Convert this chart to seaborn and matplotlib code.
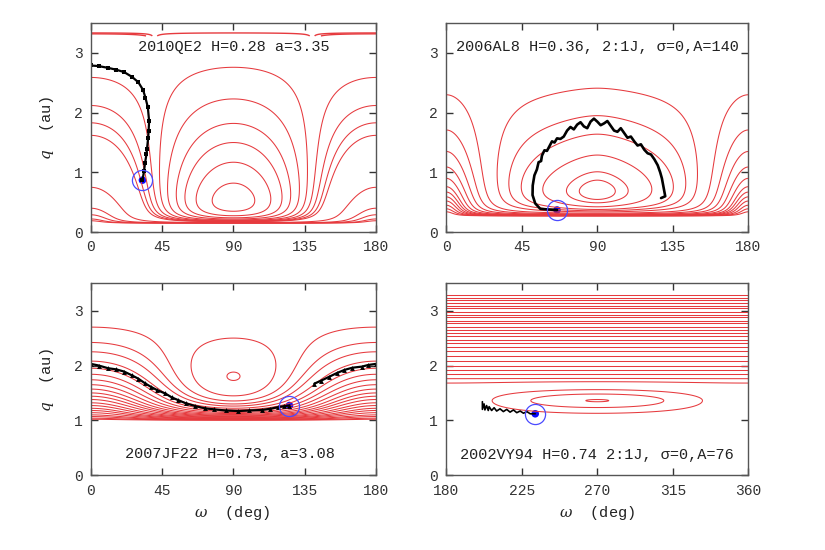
import numpy as np
import seaborn as sns
import matplotlib.pyplot as plt

# ---------------- values ----------------
labels = ["2010QE2 H=0.28 a=3.35", "2006AL8 H=0.36, 2:1J, σ=0,A=140",
          "2007JF22 H=0.73, a=3.08", "2002VY94 H=0.74 2:1J, σ=0,A=76"]

# Kozai-type panels: lower boundary band, libration centre, e=0 line (au)
qe2_frame = [0.15, 0.52, 3.35]
al8_frame = [0.27, 0.68, 3.28]
jf22_frame = [1.00, 1.80, 3.08]
# how far (deg) the arches of each panel are pushed out towards omega=0/180
qe2_spread = 0.0
al8_spread = 17.0
jf22_spread = 0.0

# q where the drawn level curves cut omega=0 and omega=90
qe2_q0 = [2.59, 2.12, 1.83, 1.62, 0.75, 0.40, 0.29, 0.22, 0.19]
qe2_q90 = [2.76, 2.23, 1.82, 1.50, 1.17, 0.82]
qe2_top_q0 = [3.335, 3.32]
qe2_top_q90 = [3.335]
al8_q0 = [2.30, 1.71, 1.35, 1.09, 0.90, 0.76, 0.67, 0.59, 0.52, 0.45, 0.39, 0.34]
al8_q90 = [2.41, 1.95, 1.64, 1.29, 1.01, 0.87]
jf22_q0 = [2.70, 2.42, 2.25, 2.08, 1.95, 1.84, 1.74, 1.65, 1.57, 1.50, 1.44,
           1.38, 1.32, 1.27, 1.22, 1.18, 1.14, 1.10, 1.07, 1.04, 1.02]
jf22_q90 = [2.50, 1.88]

# 2002VY94: resonant island (centre q, width) and level curves
vy94_island = [1.36, 0.17]
vy94_q180 = [3.29, 3.24, 3.19, 3.14, 3.09, 3.04, 2.98, 2.93, 2.88, 2.82, 2.77,
             2.71, 2.65, 2.59, 2.53, 2.47, 2.41, 2.34, 2.27, 2.18, 2.09, 2.00,
             1.92, 1.84, 1.76, 1.68]
vy94_q270 = [1.56, 1.48, 1.38]

# black trajectories (omega deg, q au) and current position
qe2_om = [0, 5, 11, 16, 21, 26, 30, 33, 34.5, 36, 36.8, 36.5, 36.2, 35.5, 35.1, 34.2, 33.6, 32.6]
qe2_q = [2.79, 2.78, 2.75, 2.72, 2.68, 2.60, 2.51, 2.38, 2.25, 2.09, 1.86, 1.70, 1.58, 1.40, 1.30, 1.15, 1.02, 0.87]
qe2_now = [32.6, 0.87]

al8_om = [66, 60, 56, 53, 51.4, 51.5, 52.5, 54, 55, 56.5, 57, 58.5, 60, 61.5, 63, 64.5, 66, 68, 70,
          72, 74, 76, 78, 80, 82, 84, 86, 88, 90, 92, 94, 96, 98, 100, 102, 104, 106, 108, 110,
          112, 114, 116, 118, 120, 122, 124, 126, 127.5, 128.5, 129.5, 130.5, 128]
al8_q = [0.37, 0.38, 0.39, 0.48, 0.62, 0.78, 0.95, 1.05, 1.17, 1.19, 1.28, 1.37, 1.36, 1.44, 1.52,
         1.50, 1.57, 1.56, 1.60, 1.70, 1.76, 1.72, 1.80, 1.84, 1.77, 1.74, 1.85, 1.90, 1.85, 1.79,
         1.82, 1.86, 1.78, 1.70, 1.68, 1.74, 1.66, 1.58, 1.60, 1.52, 1.45, 1.47, 1.38, 1.32, 1.30,
         1.22, 1.12, 1.00, 0.90, 0.75, 0.60, 0.57]
al8_now = [66, 0.37]

jf22_om_a = [0, 5, 11, 16, 21, 26, 30, 34, 38, 42, 47, 51, 55, 60, 66, 72, 78, 85, 93, 100,
             108, 113, 118, 122, 125.3]
jf22_q_a = [2.03, 2.00, 1.95, 1.93, 1.89, 1.82, 1.76, 1.68, 1.61, 1.55, 1.49, 1.42, 1.37, 1.31,
            1.26, 1.22, 1.20, 1.18, 1.17, 1.18, 1.19, 1.21, 1.24, 1.26, 1.27]
jf22_om_b = [141, 145, 150, 155, 160, 165, 171, 175, 180]
jf22_q_b = [1.67, 1.72, 1.79, 1.86, 1.92, 1.96, 1.98, 2.01, 2.03]
jf22_now = [125.3, 1.27]

vy94_om = [201.5, 201.5, 202.5, 203, 204, 205, 205.5, 207, 208.5, 210, 212, 214, 216, 218, 220,
           222, 224, 226, 228, 230, 233]
vy94_q = [1.34, 1.20, 1.30, 1.19, 1.27, 1.18, 1.25, 1.18, 1.23, 1.17, 1.21, 1.16, 1.20, 1.15,
          1.19, 1.14, 1.17, 1.13, 1.16, 1.12, 1.12]
vy94_now = [233, 1.12]

# ---------------- model surfaces ----------------
def kozai_frame(q_band, q_centre, q_top):
    target = (q_top - q_centre) / (q_top - q_band)
    lo, hi = 1e-4, np.sqrt(0.6) - 1e-6
    for _ in range(60):
        h = 0.5 * (lo + hi)
        r = np.sqrt(1 - np.sqrt(5 / 3) * h) / np.sqrt(1 - h * h)
        if r > target:
            lo = h
        else:
            hi = h
    a = (q_top - q_band) / np.sqrt(1 - h * h)
    return h, a, q_top - a


def spread(om, c):
    m = np.minimum(om, 180 - om)
    g = c * m * (90 - m) ** 2 / 108000.0
    return np.where(om <= 90, om + g, om - g)


def kozai_w(om, q, h, a, s, c):
    om = spread(np.asarray(om, dtype=float), c)
    q = np.asarray(q, dtype=float)
    e = 1 - (q - s) / a
    x = 1 - e ** 2
    with np.errstate(divide='ignore', invalid='ignore'):
        c2 = h ** 2 / x
        w = (2 + 3 * e ** 2) * (3 * c2 - 1) + 15 * e ** 2 * (1 - c2) * np.cos(np.radians(2 * om))
    return np.where((c2 > 1) | (e < 0) | (e >= 1), np.nan, w)


def resonant_w(om, q, qc, width):
    d = np.asarray(q, dtype=float) - qc
    return d * np.abs(d) - np.exp(-d ** 2 / width ** 2) * np.sin(np.radians(om)) ** 2


def levels_from(fn, pairs):
    return np.unique([float(fn(o, q)) for o, q in pairs])


# ---------------- figure ----------------
sns.set_theme(style='ticks')
plt.rcParams['font.family'] = ['Liberation Mono', 'DejaVu Sans Mono', 'DejaVu Sans']
plt.rcParams['mathtext.fontset'] = 'dejavuserif'

red = '#e63a3e'
ink = '#333333'
fig = plt.figure(figsize=(8.25, 5.5), dpi=100)
boxes = [[0.110, 0.578, 0.346, 0.380], [0.541, 0.578, 0.366, 0.380],
         [0.110, 0.136, 0.346, 0.349], [0.541, 0.136, 0.366, 0.349]]
axes = [fig.add_axes(b) for b in boxes]

qq = np.linspace(0, 3.5, 1401)
oo = np.linspace(0, 180, 901)
O, Q = np.meshgrid(oo, qq)
cstyle = dict(colors=red, linewidths=0.75, linestyles='solid')

kozai_panels = [(axes[0], qe2_frame, qe2_spread, qe2_q0, qe2_q90),
                (axes[1], al8_frame, al8_spread, al8_q0, al8_q90),
                (axes[2], jf22_frame, jf22_spread, jf22_q0, jf22_q90)]
for ax, frame, c, q0, q90 in kozai_panels:
    h, a, s = kozai_frame(*frame)
    fn = lambda o, q, h=h, a=a, s=s, c=c: kozai_w(o, q, h, a, s, c)
    lev = levels_from(fn, [(0, v) for v in q0] + [(90, v) for v in q90])
    ax.contour(O, Q, fn(O, Q), levels=lev, **cstyle)

# thin strip of near-circular level curves at the top of the 2010QE2 panel
h, a, s = kozai_frame(*qe2_frame)
fn = lambda o, q: kozai_w(o, q, h, a, s, qe2_spread)
qs = np.linspace(3.285, 3.36, 300)
Os, Qs = np.meshgrid(oo, qs)
lev = levels_from(fn, [(0, v) for v in qe2_top_q0] + [(90, v) for v in qe2_top_q90])
axes[0].contour(Os, Qs, fn(Os, Qs), levels=lev, colors=red, linewidths=1.0, linestyles='solid')

# resonant panel
oo2 = np.linspace(180, 360, 901)
O2, Q2 = np.meshgrid(oo2, np.linspace(1.07, 3.32, 1200))
fn = lambda o, q: resonant_w(o, q, *vy94_island)
lev = levels_from(fn, [(180, v) for v in vy94_q180] + [(270, v) for v in vy94_q270])
axes[3].contour(O2, Q2, fn(O2, Q2), levels=lev, **cstyle)

# trajectories
sns.lineplot(x=qe2_om, y=qe2_q, sort=False, estimator=None, color='black', lw=1.6,
             marker='s', markersize=3, markeredgewidth=0, ax=axes[0])
sns.lineplot(x=al8_om, y=al8_q, sort=False, estimator=None, color='black', lw=1.9, ax=axes[1])
for xs, ys in [(jf22_om_a, jf22_q_a), (jf22_om_b, jf22_q_b)]:
    sns.lineplot(x=xs, y=ys, sort=False, estimator=None, color='black', lw=1.6,
                 marker='^', markersize=3.5, markeredgewidth=0, ax=axes[2])
sns.lineplot(x=vy94_om, y=vy94_q, sort=False, estimator=None, color='black', lw=1.2, ax=axes[3])

for ax, now in zip(axes, [qe2_now, al8_now, jf22_now, vy94_now]):
    ax.plot([now[0]], [now[1]], 'o', ms=14.5, mfc='none', mec='#4a4aff', mew=0.9)
    sns.scatterplot(x=[now[0]], y=[now[1]], s=30, color='#0a0aff', edgecolor='none', ax=ax)

# frames, ticks and labels
text_pos = [(90, 3.1), (90, 3.1), (88, 0.38), (270, 0.37)]
for i, ax in enumerate(axes):
    right = i == 3
    ax.set_xlim(180, 360) if right else ax.set_xlim(0, 180)
    ax.set_ylim(0, 3.5)
    ticks = [180, 225, 270, 315, 360] if right else [0, 45, 90, 135, 180]
    ax.set_xticks(ticks)
    ax.set_yticks([0, 1, 2, 3])
    ax.tick_params(direction='in', top=True, right=True, length=5, width=1,
                   color=ink, labelcolor=ink, labelsize=10.5, pad=6)
    for sp in ax.spines.values():
        sp.set_color('#555555')
        sp.set_linewidth(1.0)
    ax.set_xlabel('')
    ax.set_ylabel('')
    ax.text(*text_pos[i], labels[i], ha='center', va='center', fontsize=11, color='#222222')

fig.text(0.057, 0.768, r'$q$  (au)', rotation=90, ha='center', va='center', fontsize=11, color='#222222')
fig.text(0.057, 0.31, r'$q$  (au)', rotation=90, ha='center', va='center', fontsize=11, color='#222222')
fig.text(0.281, 0.067, r'$\omega$  (deg)', ha='center', va='center', fontsize=11, color='#222222')
fig.text(0.724, 0.067, r'$\omega$  (deg)', ha='center', va='center', fontsize=11, color='#222222')

fig.savefig('out.png', dpi=100, facecolor='white')
